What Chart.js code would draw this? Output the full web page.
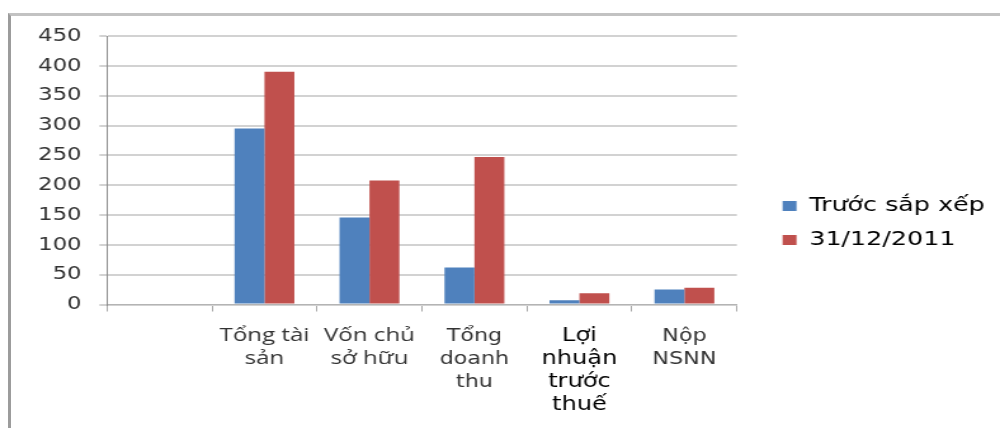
<!doctype html>
<html lang="vi">
<head>
<meta charset="UTF-8">
<title>Trước sắp xếp / 31/12/2011</title>
<script src="https://cdn.jsdelivr.net/npm/chart.js@4.4.0/dist/chart.umd.min.js"></script>
<style>
  body { margin: 0; background: #fff; }
  #frame { position: absolute; left: 8px; top: 13px; width: 1100px; height: 500px;
           border-top: 3px solid #c2c2c2; border-left: 3px solid #9c9c9c; }
  #chart { position: absolute; left: 0; top: 0; }
</style>
</head>
<body>
<div id="frame"></div>
<!-- drawn at 788 px and stretched to 1000 px, like the widened original -->
<canvas id="chart" width="788" height="428" style="width:1000px;height:428px"></canvas>
<script>
// categories (first slot is empty in the original)
var categories = ['', ['Tổng tài', 'sản'], ['Vốn chủ', 'sở hữu'], ['Tổng', 'doanh', 'thu'],
                  ['Lợi', 'nhuận', 'trước', 'thuế'], ['Nộp', 'NSNN']];
var seriesNames = ['Trước sắp xếp', '31/12/2011'];
var before = [null, 295, 146, 62, 7, 25];
var after2011 = [null, 390, 208, 247, 19, 28];
var yTicks = [0, 50, 100, 150, 200, 250, 300, 350, 400, 450];

var BLUE = '#4f81bd';
var RED = '#c0504d';
var BOLD_IDX = 4;

var config = {
  type: 'bar',
  data: {
    labels: categories,
    datasets: [
      { label: seriesNames[0], data: before, backgroundColor: BLUE },
      { label: seriesNames[1], data: after2011, backgroundColor: RED }
    ]
  },
  options: {
    responsive: false,
    animation: false,
    layout: { padding: { top: 36, bottom: 18, left: 0, right: 2 } },
    datasets: { bar: { categoryPercentage: 0.57, barPercentage: 1 } },
    plugins: {
      tooltip: { enabled: false },
      legend: {
        position: 'right',
        maxWidth: 400,
        labels: {
          boxWidth: 11, boxHeight: 10, padding: 14,
          color: '#000',
          font: { family: 'DejaVu Sans', size: 20 }
        }
      }
    },
    scales: {
      x: {
        grid: { drawOnChartArea: false, tickLength: 7, color: '#a8a8a8' },
        border: { color: '#b4b4b4' },
        ticks: {
          autoSkip: false, maxRotation: 0, padding: 13,
          color: function (c) { return c.index === BOLD_IDX ? '#000' : '#333'; },
          font: function (c) {
            if (c.index === BOLD_IDX) return { family: 'DejaVu Sans', size: 19, lineHeight: '23px' };
            if (c.index <= 2) return { family: 'Open Sans', size: 19, lineHeight: '23px' };
            return { family: 'DejaVu Sans', size: 17.5, lineHeight: '23px' };
          }
        },
        afterFit: function (s) { s.height = 105.5; }
      },
      y: {
        min: 0, max: 450,
        afterBuildTicks: function (s) { s.ticks = yTicks.map(function (v) { return { value: v }; }); },
        grid: { color: '#d2d2d2', lineWidth: 2, tickLength: 6 },
        border: { color: '#8c8c8c', width: 1 },
        ticks: { color: '#333', padding: 14, font: { family: 'DejaVu Sans', size: 18 } },
        afterFit: function (s) { s.width = 84.3; }
      },
      gap: {
        type: 'linear', position: 'right', display: true,
        grid: { display: false }, border: { display: false }, ticks: { display: false },
        afterFit: function (s) { s.width = 22; }
      }
    }
  }
};

window.onload = function () {
  var ctx = document.getElementById('chart').getContext('2d');
  window.myBar = new Chart(ctx, config);
};
</script>
</body>
</html>
